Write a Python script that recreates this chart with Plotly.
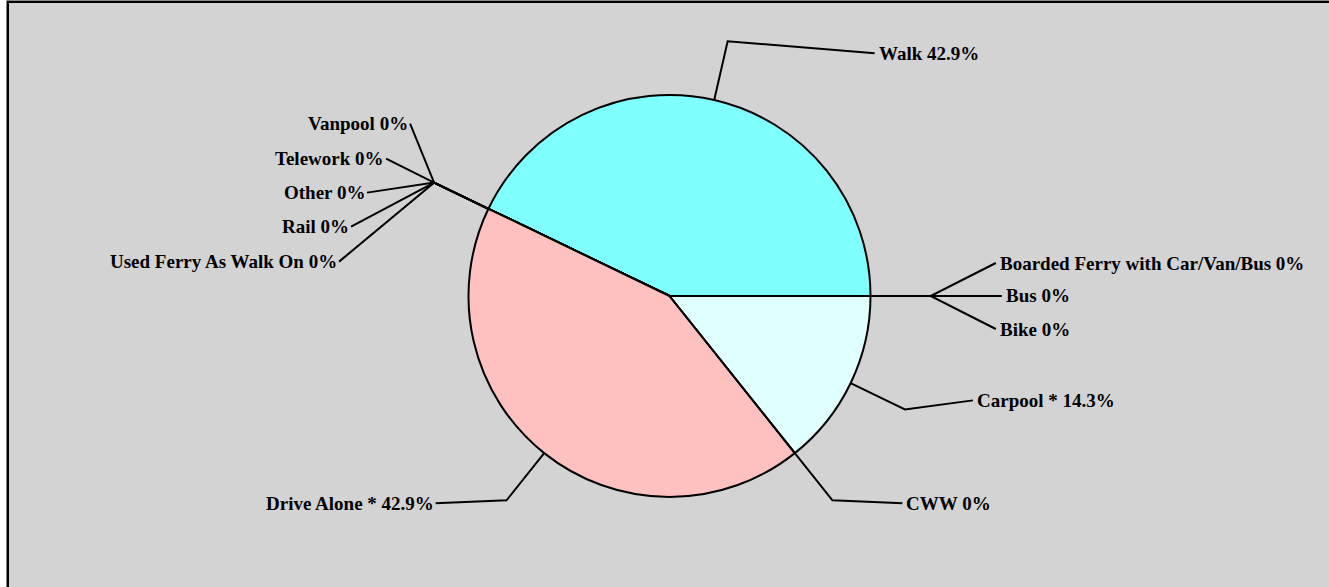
import math
import plotly.graph_objects as go

# ---- data (pie order, counterclockwise starting with Carpool) ----
categories = ["Carpool *", "Bike", "Bus", "Boarded Ferry with Car/Van/Bus", "Walk",
              "Vanpool", "Telework", "Other", "Rail", "Used Ferry As Walk On",
              "Drive Alone *", "CWW"]
values = [14.3, 0, 0, 0, 42.9, 0, 0, 0, 0, 0, 42.9, 0]
slice_colors = ["#e0ffff", "#e0ffff", "#e0ffff", "#e0ffff", "#80ffff",
                "#80ffff", "#80ffff", "#80ffff", "#80ffff", "#80ffff",
                "#ffc0c0", "#ffc0c0"]

# ---- layout / style (pixels) ----
W, H = 1329, 587
CX, CY, R = 669.5, 296.0, 201.0
ELBOW = 1.3
# label line end offsets (dx, dy) from the elbow point, per category
label_offsets = [(68, -9), (65, 33), (71, 0), (65, -33), (147, 12),
                 (-24, -59), (-48, -24), (-67, 10), (-83, 44), (-95, 79),
                 (-71, 3), (70, 3)]
FONT = dict(family="Liberation Serif, Times New Roman, serif", size=19, color="black")


def fx(x):
    return x / W


def fy(y):
    return 1 - y / H


fig = go.Figure()
fig.add_trace(go.Pie(
    labels=categories, values=values, sort=False, direction="counterclockwise",
    rotation=90, textinfo="none", hoverinfo="label+percent",
    marker=dict(colors=slice_colors, line=dict(color="black", width=2)),
    domain=dict(x=[fx(CX - R), fx(CX + R)], y=[fy(CY + R), fy(CY - R)]),
    showlegend=False,
))

shapes = [
    dict(type="rect", xref="paper", yref="paper", x0=fx(6.5), x1=fx(1400), y0=fy(700), y1=fy(0.5),
         line=dict(color="#888888", width=1), fillcolor="rgba(0,0,0,0)", layer="below"),
    dict(type="rect", xref="paper", yref="paper", x0=fx(8), x1=fx(1400), y0=fy(700), y1=fy(2),
         line=dict(color="black", width=2), fillcolor="#d3d3d3", layer="below"),
]
annotations = []

total = sum(values)
theta0 = -360.0 * values[0] / total
cum = 0.0
for name, v, (dx, dy) in zip(categories, values, label_offsets):
    a0 = theta0 + 360.0 * cum / total
    cum += v
    a1 = theta0 + 360.0 * cum / total
    mid = math.radians((a0 + a1) / 2)
    ex, ey = CX + R * math.cos(mid), CY - R * math.sin(mid)
    hx, hy = CX + ELBOW * R * math.cos(mid), CY - ELBOW * R * math.sin(mid)
    lx, ly = hx + dx, hy + dy
    path = f"M {fx(ex)} {fy(ey)} L {fx(hx)} {fy(hy)} L {fx(lx)} {fy(ly)}"
    shapes.append(dict(type="path", xref="paper", yref="paper", path=path,
                       line=dict(color="black", width=2)))
    right = dx > 0
    annotations.append(dict(
        xref="paper", yref="paper", x=fx(lx + (3 if right else -1)), y=fy(ly),
        xanchor="left" if right else "right", yanchor="middle",
        text=f"<b>{name} {v:g}%</b>", showarrow=False, font=FONT, borderpad=0,
    ))

fig.update_layout(
    width=W, height=H, margin=dict(l=0, r=0, t=0, b=0),
    paper_bgcolor="white", plot_bgcolor="white",
    shapes=shapes, annotations=annotations,
)

fig.write_html("out.html", config={"displayModeBar": False},
               post_script="document.body.style.margin='0';document.body.style.overflow='hidden';")
